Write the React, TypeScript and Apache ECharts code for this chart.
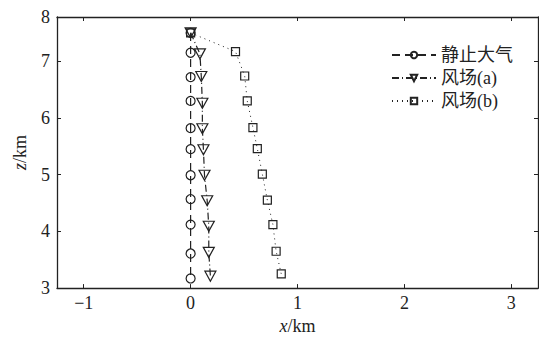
import React, { useEffect, useRef } from "react";
import * as echarts from "echarts";

const seriesNames = ["静止大气", "风场(a)", "风场(b)"];
const xStatic = [0, 0, 0, 0, 0, 0, 0, 0, 0, 0, 0];
const zStatic = [7.5, 7.15, 6.72, 6.3, 5.82, 5.45, 4.99, 4.57, 4.12, 3.61, 3.17];
const xA = [0, 0.087, 0.1, 0.11, 0.11, 0.12, 0.13, 0.155, 0.17, 0.17, 0.185];
const zA = [7.5, 7.13, 6.73, 6.26, 5.81, 5.44, 4.99, 4.54, 4.09, 3.63, 3.21];
const xB = [0, 0.42, 0.506, 0.53, 0.583, 0.624, 0.671, 0.718, 0.77, 0.8, 0.848];
const zB = [7.5, 7.17, 6.74, 6.3, 5.83, 5.46, 5.01, 4.55, 4.12, 3.65, 3.25];
const xRange = [-1.25, 3.25];
const zRange = [3, 7.78];
const zTopLabel = "8";

const FONT = "'Liberation Serif', 'Noto Sans CJK SC', serif";
const INK = "#222";
const FS = 18;

function pairs(xs: number[], zs: number[]) {
  return xs.map((x, i) => [x, zs[i]]);
}

export default function App() {
  const ref = useRef<HTMLDivElement>(null);
  useEffect(() => {
    if (!ref.current) return;
    const chart = echarts.init(ref.current, undefined, { renderer: "svg" });
    const fmtX = (v: number) => String(v).replace("-", "\u2212");
    const fmtZ = (v: number) => (Math.abs(v - zRange[1]) < 1e-6 ? zTopLabel : String(v));
    const axisLine = { show: true, onZero: false, lineStyle: { color: INK, width: 1.3 } };
    const tick = { show: true, inside: true, length: 4, lineStyle: { color: INK, width: 1 } };
    const nameStyle = {
      fontFamily: FONT,
      fontSize: FS,
      color: INK,
      rich: { i: { fontStyle: "italic", fontFamily: FONT, fontSize: FS, color: INK } },
    };
    chart.setOption({
      animation: false,
      backgroundColor: "#fff",
      grid: { left: 57, right: 1, top: 17, bottom: 47, containLabel: false },
      legend: {
        orient: "vertical",
        left: 386,
        top: 41,
        itemWidth: 44,
        itemHeight: 8,
        itemGap: 5,
        data: seriesNames,
        textStyle: { fontFamily: FONT, fontSize: FS, color: INK },
      },
      xAxis: [
        {
          type: "value",
          min: xRange[0],
          max: xRange[1],
          splitNumber: 5,
          position: "bottom",
          splitLine: { show: false },
          axisLine,
          axisTick: tick,
          axisLabel: {
            formatter: (v: number) => (Number.isInteger(v) ? fmtX(v) : ""),
            fontFamily: FONT,
            fontSize: FS,
            color: INK,
            margin: 6,
            showMinLabel: false,
            showMaxLabel: false,
          },
          name: "{i|x}/km",
          nameLocation: "middle",
          nameGap: 24,
          nameTextStyle: nameStyle,
        },
        {
          type: "value",
          min: xRange[0],
          max: xRange[1],
          splitNumber: 5,
          position: "top",
          splitLine: { show: false },
          axisLine,
          axisTick: tick,
          axisLabel: { show: false },
        },
      ],
      yAxis: [
        {
          type: "value",
          min: zRange[0],
          max: zRange[1],
          interval: 1,
          position: "left",
          splitLine: { show: false },
          axisLine,
          axisTick: tick,
          axisLabel: {
            formatter: fmtZ,
            fontFamily: FONT,
            fontSize: FS,
            color: INK,
            margin: 7,
            showMinLabel: true,
            showMaxLabel: true,
          },
          name: "{i|z}/km",
          nameLocation: "middle",
          nameRotate: 90,
          nameGap: 28,
          nameTextStyle: nameStyle,
        },
        {
          type: "value",
          min: zRange[0],
          max: zRange[1],
          interval: 1,
          position: "right",
          splitLine: { show: false },
          axisLine,
          axisTick: tick,
          axisLabel: { show: false },
        },
      ],
      series: [
        {
          name: seriesNames[2],
          type: "line",
          data: pairs(xB, zB),
          symbol: "rect",
          symbolSize: 8,
          showAllSymbol: true,
          lineStyle: { color: INK, width: 1, type: [1, 4] },
          itemStyle: { color: "rgba(255,255,255,0)", borderColor: INK, borderWidth: 1.2 },
          z: 2,
        },
        {
          name: seriesNames[1],
          type: "line",
          data: pairs(xA, zA),
          symbol: "triangle",
          symbolRotate: 180,
          symbolSize: [11, 10],
          showAllSymbol: true,
          lineStyle: { color: INK, width: 1.2, type: [7, 3, 1, 3] },
          itemStyle: { color: "rgba(255,255,255,0)", borderColor: INK, borderWidth: 1.2 },
          z: 3,
        },
        {
          name: seriesNames[0],
          type: "line",
          data: pairs(xStatic, zStatic),
          symbol: "circle",
          symbolSize: 9,
          showAllSymbol: true,
          lineStyle: { color: INK, width: 1.2, type: [8, 5] },
          itemStyle: { color: "rgba(255,255,255,0)", borderColor: INK, borderWidth: 1.2 },
          z: 4,
        },
      ],
    });
    return () => chart.dispose();
  }, []);
  return <div ref={ref} style={{ width: 539, height: 340, position: "absolute", left: 0, top: 0 }} />;
}
